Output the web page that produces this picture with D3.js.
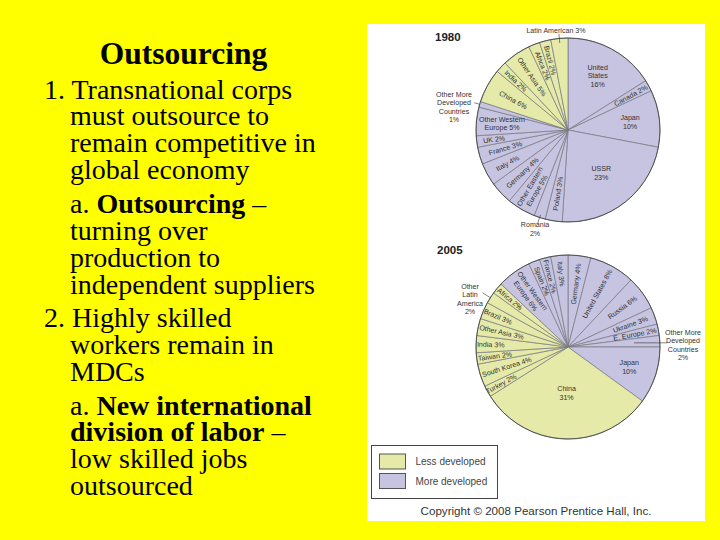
<!DOCTYPE html>
<html>
<head>
<meta charset="utf-8">
<script src="https://cdn.jsdelivr.net/npm/d3@7"></script>
<style>
  html, body { margin: 0; padding: 0; background: #ffff00; }
  svg { display: block; }
</style>
</head>
<body>
<div id="plot"></div>
<script>
// slide text: [text, bold?] runs per line
var slideTitle = "Outsourcing";
var slideLines = [
  [[["1. Transnational corps", false]], 44, 99],
  [[["must outsource to", false]], 70, 125],
  [[["remain competitive in", false]], 70, 152],
  [[["global economy", false]], 70, 179],
  [[["a. ", false], ["Outsourcing", true], [" –", false]], 70, 213],
  [[["turning over", false]], 70, 240],
  [[["production to", false]], 70, 267],
  [[["independent suppliers", false]], 70, 294],
  [[["2. Highly skilled", false]], 44, 327],
  [[["workers remain in", false]], 70, 354],
  [[["MDCs", false]], 70, 381],
  [[["a. ", false], ["New international", true]], 70, 415],
  [[["division of labor", true], [" –", false]], 70, 441],
  [[["low skilled jobs", false]], 70, 468],
  [[["outsourced", false]], 70, 495]
];

// 1980 pie, clockwise from the top. "|" is a line break in the label
var names1980 = ["United|States|", "Canada ", "Japan|", "USSR|", "Poland ", "Romania|",
  "Other Eastern|Europe ", "Germany ", "Italy ", "France ", "UK ", "Other Western|Europe ",
  "Other More|Developed|Countries|", "China ", "India ", "Other Asia ", "Africa ", "Brazil ",
  "Latin American "];
var values1980 = [16, 2, 10, 23, 3, 2, 5, 4, 4, 3, 2, 5, 1, 6, 2, 5, 2, 2, 3];
var groups1980 = ["m", "m", "m", "m", "m", "m", "m", "m", "m", "m", "m", "m", "m",
  "l", "l", "l", "l", "l", "l"];

// 2005 pie
var names2005 = ["Germany ", "United States ", "Russia ", "Ukraine ", "E. Europe ",
  "Other More|Developed|Countries|", "Japan|", "China|", "Turkey ", "South Korea ", "Taiwan ",
  "India ", "Other Asia ", "Brazil ", "Other|Latin|America|", "Africa ",
  "Other Western|Europe ", "Spain ", "France ", "Italy "];
var values2005 = [4, 8, 6, 3, 2, 2, 10, 31, 2, 4, 2, 3, 3, 3, 2, 2, 6, 2, 2, 3];
var groups2005 = ["m", "m", "m", "m", "m", "m", "m", "l", "l", "l", "l", "l", "l", "l", "l", "l",
  "m", "m", "m", "m"];

var legendLabels = ["Less developed", "More developed"];

// label layout: distance from the centre as a fraction of the radius
var labelR1980 = [.67, .78, .68, .59, .70, 0, .74, .68, .75, .71, .81, .72, 0, .68, .78, .70, .75, .78, 0];
var labelR2005 = [.69, .66, .73, .72, .74, 0, .70, .50, .83, .70, .80, .84, .74, .83, 0, .82, .72, .77, .79, .80];
// labels that stay horizontal
var flat1980 = ["United|States|", "Japan|", "USSR|", "Other Western|Europe "];
var flat2005 = ["Japan|", "China|"];
// labels outside the pie: slice index, offset from centre, leader start/end
var outside1980 = [
  {i: 5, dx: -33, dy: 99, from: 0.97, to: 1.07},
  {i: 12, dx: -114, dy: -23, from: 1.0, to: 1.06},
  {i: 18, dx: -12, dy: -100, from: 0.95, to: 1.05}
];
var outside2005 = [
  {i: 5, dx: 115, dy: -2, from: 0.72, to: 1.08},
  {i: 14, dx: -98, dy: -48, from: 1.0, to: 1.1}
];

var color = {l: "#e5eaa9", m: "#c6c4e1"};

var svg = d3.select("div#plot")
  .append("svg")
    .attr("width", 720)
    .attr("height", 540);

svg.append("rect")
  .attr("width", 720).attr("height", 540)
  .attr("fill", "#ffff00");

// left text
svg.append("text")
  .attr("x", 183.5).attr("y", 64)
  .attr("text-anchor", "middle")
  .style("font", "bold 31.5px 'Liberation Serif'")
  .text(slideTitle);

slideLines.forEach(function(l) {
  var t = svg.append("text")
    .attr("x", l[1]).attr("y", l[2])
    .style("font", "28px 'Liberation Serif'");
  l[0].forEach(function(run) {
    t.append("tspan")
      .style("font-weight", run[1] ? "bold" : "normal")
      .text(run[0]);
  });
});

// white picture panel
svg.append("rect")
  .attr("x", 367).attr("y", 24)
  .attr("width", 338).attr("height", 497)
  .attr("fill", "#ffffff");

var radius = 92;
var rad = d3.scaleLinear().domain([0, 1]).range([0, radius]);
var labelSize = 7.1;

function labelLines(sel, txt, size) {
  var parts = txt.split("|");
  parts.forEach(function(p, i) {
    sel.append("tspan")
      .attr("x", 0)
      .attr("y", (i - (parts.length - 1) / 2) * size * 1.18 + size * 0.35)
      .text(p);
  });
}

function drawPie(cx, cy, year, yearX, yearY, names, values, groups, labelR, flat, outside) {
  var g = svg.append("g")
    .attr("transform", "translate(" + cx + "," + cy + ")");

  var arcs = d3.pie().sort(null)(values);
  var arc = d3.arc().innerRadius(0).outerRadius(radius);

  g.selectAll(".slice")
    .data(arcs)
    .enter().append("path")
    .attr("class", "slice")
    .attr("d", arc)
    .attr("fill", function(d, i) { return color[groups[i]]; })
    .attr("stroke", "#77777f")
    .attr("stroke-width", 0.7);

  g.append("circle")
    .attr("r", radius)
    .attr("fill", "none")
    .attr("stroke", "#4a4a4a")
    .attr("stroke-width", 0.9);

  // labels inside the slices, rotated along the radius
  arcs.forEach(function(d, i) {
    if (!labelR[i]) return;
    var mid = (d.startAngle + d.endAngle) / 2;
    var deg = mid * 180 / Math.PI;
    var rot = flat.indexOf(names[i]) >= 0 ? 0 : (deg < 180 ? deg - 90 : deg - 270);
    var px = Math.sin(mid) * rad(labelR[i]);
    var py = -Math.cos(mid) * rad(labelR[i]);
    var t = g.append("text")
      .attr("transform", "translate(" + px + "," + py + ") rotate(" + rot + ")")
      .attr("text-anchor", "middle")
      .style("font", labelSize + "px 'Liberation Sans'")
      .attr("fill", "#333");
    labelLines(t, names[i] + values[i] + "%", labelSize);
  });

  // labels outside with a small leader
  outside.forEach(function(o) {
    var d = arcs[o.i];
    var mid = (d.startAngle + d.endAngle) / 2;
    var y1 = -Math.cos(mid) * rad(o.from);
    g.append("line")
      .attr("x1", Math.sin(mid) * rad(o.from))
      .attr("y1", y1)
      .attr("x2", Math.sin(mid) * rad(o.to))
      .attr("y2", o.i == 5 && year == "2005" ? y1 : -Math.cos(mid) * rad(o.to))
      .attr("stroke", "#333")
      .attr("stroke-width", 0.6);
    var t = g.append("text")
      .attr("transform", "translate(" + o.dx + "," + o.dy + ")")
      .attr("text-anchor", "middle")
      .style("font", labelSize + "px 'Liberation Sans'")
      .attr("fill", "#333");
    labelLines(t, names[o.i] + values[o.i] + "%", labelSize);
  });

  svg.append("text")
    .attr("x", yearX).attr("y", yearY)
    .style("font", "bold 11.5px 'Liberation Sans'")
    .attr("fill", "#222")
    .text(year);
}

drawPie(568, 130, "1980", 435, 41, names1980, values1980, groups1980, labelR1980, flat1980, outside1980);
drawPie(568, 347, "2005", 437, 254, names2005, values2005, groups2005, labelR2005, flat2005, outside2005);

// legend
svg.append("rect")
  .attr("x", 371.5).attr("y", 445.5)
  .attr("width", 126).attr("height", 53)
  .attr("fill", "#fff")
  .attr("stroke", "#444")
  .attr("stroke-width", 1);

var legendY = d3.scalePoint().domain(legendLabels).range([461.5, 481]);

legendLabels.forEach(function(name, i) {
  svg.append("rect")
    .attr("x", 379.5).attr("y", legendY(name) - 7.5)
    .attr("width", 26).attr("height", 15)
    .attr("fill", i == 0 ? color.l : color.m)
    .attr("stroke", "#555")
    .attr("stroke-width", 1);
  svg.append("text")
    .attr("x", 415.5).attr("y", legendY(name) + 3.5)
    .style("font", "10px 'Liberation Sans'")
    .attr("fill", "#444")
    .text(name);
});

svg.append("text")
  .attr("x", 536).attr("y", 515)
  .attr("text-anchor", "middle")
  .style("font", "11.6px 'Liberation Sans'")
  .attr("fill", "#333")
  .text("Copyright © 2008 Pearson Prentice Hall, Inc.");
</script>
</body>
</html>
